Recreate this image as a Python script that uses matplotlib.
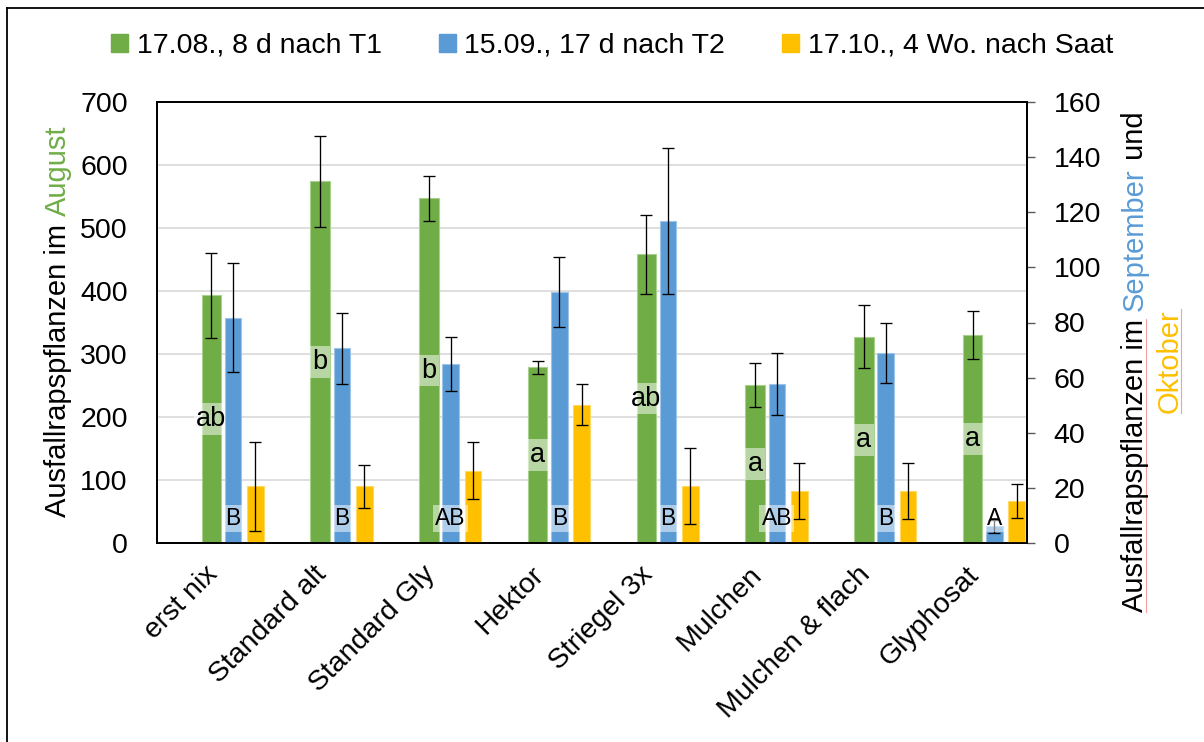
import matplotlib
matplotlib.use("Agg")
import matplotlib.pyplot as plt
import numpy as np
from matplotlib.lines import Line2D
from matplotlib.patches import Patch

plt.rcParams["font.family"] = ["Liberation Sans", "DejaVu Sans"]

# ---- data -------------------------------------------------------------
categories = ["erst nix", "Standard alt", "Standard Gly", "Hektor",
              "Striegel 3x", "Mulchen", "Mulchen & flach", "Glyphosat"]
series_names = ["17.08., 8 d nach T1", "15.09., 17 d nach T2",
                "17.10., 4 Wo. nach Saat"]

aug = [393, 574, 547, 279, 458, 251, 327, 330]
aug_err = [67, 72, 36, 10, 62, 35, 50, 38]
sep = [81.7, 70.6, 65.0, 90.9, 116.7, 57.6, 68.8, 6.0]
sep_err = [19.8, 13.0, 9.7, 12.7, 26.5, 11.3, 10.9, 2.5]
okt = [20.6, 20.6, 26.3, 50.2, 20.6, 18.8, 18.8, 15.2]
okt_err = [16.1, 7.8, 10.5, 7.5, 13.8, 10.2, 10.2, 6.3]

aug_letters = ["ab", "b", "b", "a", "ab", "a", "a", "a"]
sep_letters = ["B", "B", "AB", "B", "B", "AB", "B", "A"]

left_ticks = list(range(0, 701, 100))
right_ticks = list(range(0, 161, 20))

# ---- style ------------------------------------------------------------
GREEN = "#70AD47"
BLUE = "#5B9BD5"
ORANGE = "#FFC000"
FS_TICK = 20.5
FS_TITLE = 21

W, H = 1204, 742
fig = plt.figure(figsize=(W / 100, H / 100), dpi=100)
fig.patch.set_facecolor("white")

L, R, T, B = 157, 1027, 102, 543
ax = fig.add_axes([L / W, 1 - B / H, (R - L) / W, (B - T) / H])
ax2 = ax.twinx()

x = np.arange(len(categories))
ax.set_xlim(-0.5, len(categories) - 0.5)
ax.set_ylim(0, 700)
ax2.set_ylim(0, 160)
ax.set_yticks(left_ticks)
ax2.set_yticks(right_ticks)

ax.grid(axis="y", color="#D9D9D9", lw=1.2)
ax.set_axisbelow(True)

err_kw = dict(fmt="none", ecolor="black", elinewidth=0.95, capsize=4.5,
              capthick=0.95)

# August series on the primary axis
ax.bar(x, aug, width=0.178, color=GREEN, edgecolor="#A9D18E", lw=0.8,
       zorder=2)
ax.errorbar(x, aug, yerr=aug_err, zorder=3, **err_kw)

# September / October on the secondary axis
xs = x + 0.2
xo = x + 0.405
ax2.bar(xs, sep, width=0.154, color=BLUE, edgecolor="#9DC3E6", lw=0.8,
        zorder=2)
ax2.errorbar(xs, sep, yerr=sep_err, zorder=3, **err_kw)
ax2.bar(xo, okt, width=0.154, color=ORANGE, edgecolor="#FFD966", lw=0.8,
        zorder=2)
ax2.errorbar(xo, okt, yerr=okt_err, zorder=3, **err_kw)

# significance letters
box = dict(boxstyle="square,pad=0.1", fc="white", alpha=0.5, ec="none")
for i in range(len(categories)):
    ax.text(x[i], aug[i] / 2, aug_letters[i], ha="center", va="center",
            fontsize=19.5, bbox=box, zorder=6)
    ax2.annotate(sep_letters[i], xy=(xs[i], 0), xytext=(0, 17.5),
                 textcoords="offset points", ha="center", va="center",
                 fontsize=16.5, bbox=box, zorder=6)

# spines and ticks
for a in (ax, ax2):
    for s in a.spines.values():
        s.set_color("black")
        s.set_linewidth(1.3)
ax.tick_params(axis="y", length=0, pad=21, labelsize=FS_TICK)
ax2.tick_params(axis="y", length=6, width=1.0, color="#595959",
                direction="out", pad=13, labelsize=FS_TICK)
ax.tick_params(axis="x", length=0)
ax.set_xticks(x)
ax.set_xticklabels([])
for i, c in enumerate(categories):
    ax.annotate(c, xy=(x[i], 0), xycoords=("data", "axes fraction"),
                xytext=(2, -20), textcoords="offset points", rotation=45,
                rotation_mode="anchor", ha="right", va="center",
                fontsize=FS_TICK)

# legend
handles = [Patch(color=c) for c in (GREEN, BLUE, ORANGE)]
fig.legend(handles, series_names, loc="center", ncol=3, frameon=False,
           bbox_to_anchor=(612 / W, 1 - 46 / H), fontsize=FS_TICK,
           handlelength=0.6, handleheight=0.6, handletextpad=0.3,
           columnspacing=2.0, borderaxespad=0, borderpad=0)

# multi-coloured vertical axis titles
fig.canvas.draw()
rend = fig.canvas.get_renderer()


def text_len(s, fs):
    t = fig.text(0, 0, s + "|", fontsize=fs)
    u = fig.text(0, 0, "|", fontsize=fs)
    w = t.get_window_extent(rend).width - u.get_window_extent(rend).width
    t.remove()
    u.remove()
    return w


def vertical_title(parts, x_base, y_center, fs):
    full = "".join(p for p, _ in parts)
    total = text_len(full, fs)
    start = (H - y_center) - total / 2
    prefix = ""
    spans = []
    for s, c in parts:
        y0 = start + (text_len(prefix, fs) if prefix else 0)
        fig.text(x_base / W, y0 / H, s, color=c, fontsize=fs, rotation=90,
                 rotation_mode="anchor", ha="left", va="baseline")
        spans.append((y0, y0 + text_len(s.rstrip(), fs)))
        prefix += s
    return spans


vertical_title([("Ausfallrapspflanzen im ", "black"), ("August", GREEN)],
               66, 322, FS_TITLE)
sp1 = vertical_title([("Ausfallrapspflanzen im", "black"), (" ", "black"),
                      ("September", BLUE), (" und", "black")],
                     1143, 362, FS_TITLE)
sp2 = vertical_title([("Oktober", ORANGE)], 1178, 361, FS_TITLE)

# proofing underline marks beneath two words of the right title
fig.add_artist(Line2D([1146 / W] * 2, [sp1[0][0] / H, sp1[0][1] / H],
                      color="#F2A0A0", lw=0.8))
fig.add_artist(Line2D([1181 / W] * 2, [sp2[0][0] / H, sp2[0][1] / H],
                      color="#F2A0A0", lw=0.8))

# outer frame (left and top edges)
fig.add_artist(Line2D([6.5 / W, 6.5 / W], [0, 1 - 8 / H], color="black",
                      lw=1.3))
fig.add_artist(Line2D([6.5 / W, 1], [1 - 8 / H, 1 - 8 / H], color="black",
                      lw=1.3))

fig.savefig("out.png", dpi=100)
